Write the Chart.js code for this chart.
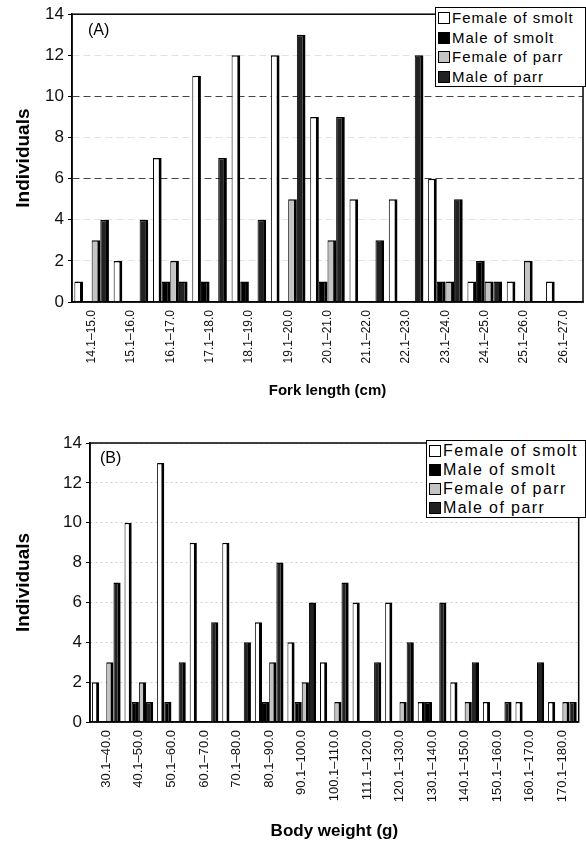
<!DOCTYPE html>
<html>
<head>
<meta charset="utf-8">
<script src="https://cdn.jsdelivr.net/npm/chart.js@4/dist/chart.umd.min.js"></script>
<style>
  body { margin: 0; background: #fff; width: 586px; height: 846px; overflow: hidden; font-family: "Liberation Sans", Arial, sans-serif; }
  .panel { position: absolute; left: 0; width: 586px; }
  .tag { position: absolute; font-size: 16px; color: #000; }
  .legend { position: absolute; box-sizing: border-box; border: 1px solid #000; background: #fff; padding: 0 2px; }
  .legend .item { white-space: nowrap; color: #000; }
  .legend .swatch { display: inline-block; width: 10px; height: 10px; border: 1px solid #000; margin-right: 2px; vertical-align: -1px; }
</style>
</head>
<body>
<div class="panel" style="top:0;height:425px">
  <canvas id="chartA"></canvas>
  <div class="tag" style="left:88px;top:21px">(A)</div>
  <div class="legend" id="legendA" style="left:435px;top:7px;width:151px;font-size:15px;letter-spacing:1px;line-height:19.5px"></div>
</div>
<div class="panel" style="top:425px;height:421px">
  <canvas id="chartB"></canvas>
  <div class="tag" style="left:100px;top:24px">(B)</div>
  <div class="legend" id="legendB" style="left:426px;top:15px;width:160px;font-size:16px;letter-spacing:1.4px;line-height:19px"></div>
</div>
<script>
const seriesNames = ["Female of smolt", "Male of smolt", "Female of parr", "Male of parr"];
const seriesColors = ["#ffffff", "#000000", "#c4c4c4", "#222222"];

// (A) fork length
const lengthLabels = ["14.1–15.0", "15.1–16.0", "16.1–17.0", "17.1–18.0", "18.1–19.0", "19.1–20.0", "20.1–21.0",
  "21.1–22.0", "22.1–23.0", "23.1–24.0", "24.1–25.0", "25.1–26.0", "26.1–27.0"];
const femaleSmoltA = [1, 2, 7, 11, 12, 12, 9, 5, 5, 6, 1, 1, 1];
const maleSmoltA = [0, 0, 1, 1, 1, 0, 1, 0, 0, 1, 2, 0, 0];
const femaleParrA = [3, 0, 2, 0, 0, 5, 3, 0, 0, 1, 1, 2, 0];
const maleParrA = [4, 4, 1, 7, 4, 13, 9, 3, 12, 5, 1, 0, 0];

// (B) body weight
const weightLabels = ["30.1–40.0", "40.1–50.0", "50.1–60.0", "60.1–70.0", "70.1–80.0", "80.1–90.0", "90.1–100.0",
  "100.1–110.0", "111.1–120.0", "120.1–130.0", "130.1–140.0", "140.1–150.0", "150.1–160.0", "160.1–170.0", "170.1–180.0"];
const femaleSmoltB = [2, 10, 13, 9, 9, 5, 4, 3, 6, 6, 1, 2, 1, 1, 1];
const maleSmoltB = [0, 1, 1, 0, 0, 1, 1, 0, 0, 0, 1, 0, 0, 0, 0];
const femaleParrB = [3, 2, 0, 0, 0, 3, 2, 1, 0, 1, 0, 1, 0, 0, 1];
const maleParrB = [7, 1, 3, 5, 4, 8, 6, 7, 3, 4, 6, 3, 1, 3, 1];

const yMax = 14;
const yStep = 2;

Chart.defaults.font.family = "'Liberation Sans', Arial, sans-serif";

// box round the plot area, like the original frame
const framePlugin = {
  id: "frame",
  afterDatasetsDraw(chart) {
    const { ctx, chartArea: a } = chart;
    ctx.save();
    ctx.strokeStyle = "#000";
    ctx.lineWidth = 1.5;
    ctx.strokeRect(a.left, a.top, a.right - a.left, a.bottom - a.top);
    ctx.restore();
  },
};

function makeChart(id, labels, values, cfg) {
  const ctx = document.getElementById(id).getContext("2d");
  return new Chart(ctx, {
    type: "bar",
    data: {
      labels: labels,
      datasets: values.map((data, i) => ({
        label: seriesNames[i],
        data: data,
        backgroundColor: seriesColors[i],
        borderColor: "#000",
        borderWidth: { top: 1.5, left: 1, right: 3, bottom: 0 },
        borderSkipped: "start",
        categoryPercentage: 0.88,
        barPercentage: 1,
      })),
    },
    options: {
      responsive: true,
      maintainAspectRatio: false,
      animation: false,
      layout: { padding: { top: cfg.top, right: cfg.right, left: 0, bottom: 0 } },
      plugins: { legend: { display: false }, tooltip: { enabled: false } },
      scales: {
        x: {
          grid: { display: false, drawTicks: false },
          border: { color: "#000", width: 1.5 },
          ticks: {
            minRotation: 90, maxRotation: 90, autoSkip: false, padding: 8,
            color: "#111", font: { size: cfg.xTickSize },
          },
          title: {
            display: true, text: cfg.xTitle, color: "#000",
            font: { size: cfg.xTitleSize, weight: "bold" },
            padding: { top: 0, bottom: cfg.titleBottom },
          },
          afterFit: (s) => { s.height = cfg.xHeight; },
        },
        y: {
          min: 0,
          max: yMax,
          ticks: { stepSize: yStep, padding: 4, color: "#111", font: { size: 17 } },
          grid: { color: cfg.gridColor, tickColor: "#000", tickLength: 4, lineWidth: 1 },
          border: { color: "#000", width: 1.5, dash: cfg.dash },
          title: {
            display: true, text: "Individuals", color: "#000",
            font: { size: 19, weight: "bold" }, padding: { top: 12, bottom: 0 },
          },
          afterFit: (s) => { s.width = cfg.yWidth; },
        },
      },
    },
    plugins: [framePlugin],
  });
}

function buildLegend(id) {
  const box = document.getElementById(id);
  seriesNames.forEach((name, i) => {
    const row = document.createElement("div");
    row.className = "item";
    const sw = document.createElement("span");
    sw.className = "swatch";
    sw.style.background = seriesColors[i];
    row.appendChild(sw);
    row.appendChild(document.createTextNode(name));
    box.appendChild(row);
  });
}

makeChart("chartA", lengthLabels, [femaleSmoltA, maleSmoltA, femaleParrA, maleParrA], {
  top: 14, right: 3, yWidth: 72, xHeight: 123, xTickSize: 12,
  xTitle: "Fork length (cm)", xTitleSize: 15, titleBottom: 25,
  dash: [7, 4],
  gridColor: (c) => (c.tick.value === 6 || c.tick.value === 10 ? "#444" : "#e2e2e2"),
});

makeChart("chartB", weightLabels, [femaleSmoltB, maleSmoltB, femaleParrB, maleParrB], {
  top: 18, right: 0, yWidth: 90, xHeight: 124, xTickSize: 13,
  xTitle: "Body weight (g)", xTitleSize: 17, titleBottom: 4,
  dash: [2, 3],
  gridColor: "#d0d0d0",
});

buildLegend("legendA");
buildLegend("legendB");
</script>
</body>
</html>
